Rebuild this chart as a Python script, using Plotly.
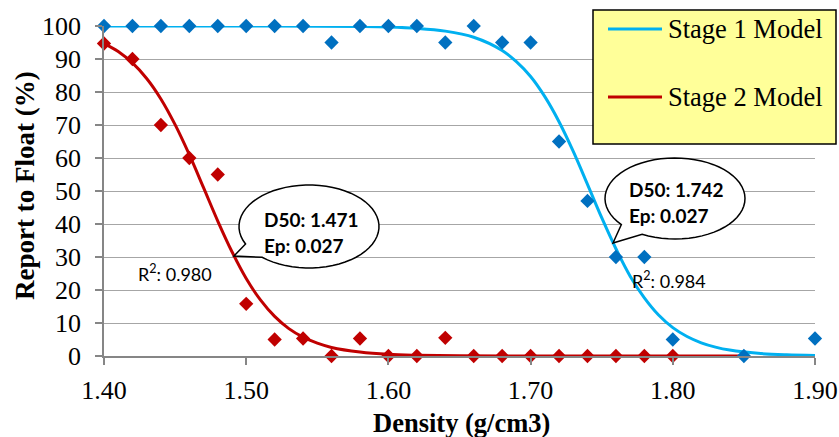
import math
import plotly.graph_objects as go

# ---- data ----
density_pts = [1.40, 1.42, 1.44, 1.46, 1.48, 1.50, 1.52, 1.54, 1.56, 1.58, 1.60, 1.62,
               1.64, 1.66, 1.68, 1.70, 1.72, 1.74, 1.76, 1.78, 1.80]
stage1_density = density_pts + [1.85, 1.90]
stage1_float = [100, 100, 100, 100, 100, 100, 100, 100, 95, 100, 100, 100,
                95, 100, 95, 95, 65, 47, 30, 30, 5, 0, 5.3]
stage2_density = density_pts
stage2_float = [94.7, 90, 70, 60, 55, 15.8, 5, 5.3, 0, 5.3, 0, 0,
                5.5, 0, 0, 0, 0, 0, 0, 0, 0]

model1_x = [1.40, 1.45, 1.50, 1.55, 1.58, 1.60, 1.62, 1.64, 1.66, 1.68, 1.69, 1.70, 1.71,
            1.72, 1.73, 1.74, 1.75, 1.76, 1.77, 1.78, 1.79, 1.80, 1.81, 1.82, 1.83, 1.84,
            1.86, 1.88, 1.90]
model1_y = [100, 100, 99.99, 99.96, 99.86, 99.7, 99.3, 98.45, 96.6, 92.6, 89.2, 84.7, 78.6,
            71.0, 62.0, 52.0, 41.9, 32.5, 24.2, 17.6, 12.4, 8.6, 5.9, 4.0, 2.7, 1.8,
            0.8, 0.36, 0.16]
model2_x = [1.40, 1.41, 1.42, 1.43, 1.44, 1.45, 1.46, 1.47, 1.48, 1.49, 1.50, 1.51, 1.52,
            1.53, 1.54, 1.55, 1.56, 1.58, 1.60, 1.62, 1.65, 1.70, 1.75, 1.80, 1.85]
model2_y = [94.7, 92.3, 88.8, 84.1, 77.9, 70.1, 61.0, 51.0, 40.9, 31.6, 23.5, 17.0, 12.0,
            8.3, 5.7, 3.9, 2.6, 1.2, 0.5, 0.23, 0.07, 0.01, 0, 0, 0]

legend_names = ["Stage 1 Model", "Stage 2 Model"]
callout_lines = [["D50: 1.471", "Ep: 0.027"], ["D50: 1.742", "Ep: 0.027"]]
r2_labels = ["R<sup>2</sup>: 0.980", "R<sup>2</sup>: 0.984"]
x_ticks = [1.40, 1.50, 1.60, 1.70, 1.80, 1.90]
x_tick_text = ["1.40", "1.50", "1.60", "1.70", "1.80", "1.90"]
x_title = "Density (g/cm3)"
y_title = "Report to Float (%)"

# ---- layout geometry (pixels) ----
W, H = 839, 437
ML, MR, MT, MB = 104, 24, 26, 81
X_RANGE = [1.40, 1.90]
Y_RANGE = [0, 100]
PW = W - ML - MR
PH = H - MT - MB


def dx(px):
    return X_RANGE[0] + (px - ML) / PW * (X_RANGE[1] - X_RANGE[0])


def dy(py):
    return Y_RANGE[0] + (MT + PH - py) / PH * (Y_RANGE[1] - Y_RANGE[0])


def qx(px):
    return (px - ML) / PW


def qy(py):
    return (MT + PH - py) / PH


def callout_path(cx, cy, rx, ry, a_start, a_end, tip):
    pts = []
    n = 60
    for i in range(n + 1):
        a = math.radians(a_start + (a_end - a_start) * i / n)
        pts.append((cx + rx * math.cos(a), cy + ry * math.sin(a)))
    pts.append(tip)
    return "M " + " L ".join(f"{dx(px):.5f},{dy(py):.4f}" for px, py in pts) + " Z"


BLUE_M = "#0070C0"
BLUE_L = "#00B0F0"
RED = "#C00000"
SERIF = "Liberation Serif, Times New Roman, serif"
SANS = "Lato, Carlito, Calibri, sans-serif"

fig = go.Figure()

fig.add_trace(go.Scatter(x=model1_x, y=model1_y, mode="lines", name=legend_names[0],
                         line=dict(color=BLUE_L, width=3, shape="spline"),
                         showlegend=False, cliponaxis=False))
fig.add_trace(go.Scatter(x=model2_x, y=model2_y, mode="lines", name=legend_names[1],
                         line=dict(color=RED, width=3, shape="spline"),
                         showlegend=False, cliponaxis=False))
fig.add_trace(go.Scatter(x=stage1_density, y=stage1_float, mode="markers", showlegend=False,
                         name="Stage 1", marker=dict(symbol="diamond", size=11, color=BLUE_M),
                         cliponaxis=False))
fig.add_trace(go.Scatter(x=stage2_density, y=stage2_float, mode="markers", showlegend=False,
                         name="Stage 2", marker=dict(symbol="diamond", size=11, color=RED),
                         cliponaxis=False))

shapes = [
    dict(type="path", xref="x", yref="y",
         path=callout_path(309, 226.5, 70, 41.5, 155, 492, (234, 256)),
         line=dict(color="black", width=1.5), fillcolor="white", layer="above"),
    dict(type="path", xref="x", yref="y",
         path=callout_path(675, 198.5, 70, 40.5, 140, 478, (613, 243)),
         line=dict(color="black", width=1.5), fillcolor="white", layer="above"),
    # legend box
    dict(type="rect", xref="paper", yref="paper", x0=qx(593), x1=qx(836), y0=qy(144), y1=qy(10),
         line=dict(color="black", width=1.5), fillcolor="#FFFF99", layer="above"),
]

annotations = []
for (ly, col), name in zip([(29, BLUE_L), (97, RED)], legend_names):
    shapes.append(dict(type="line", xref="paper", yref="paper", x0=qx(608), x1=qx(662),
                       y0=qy(ly), y1=qy(ly), line=dict(color=col, width=3), layer="above"))
    annotations.append(dict(x=qx(666), y=qy(ly), xref="paper", yref="paper", text=name,
                            showarrow=False, xanchor="left", yanchor="middle",
                            font=dict(family=SERIF, size=26.5, color="black")))

for (tx, ys), lines in zip([(262, (219, 245)), (627, (189, 215))], callout_lines):
    for yy, txt in zip(ys, lines):
        annotations.append(dict(x=dx(tx), y=dy(yy), xref="x", yref="y", text=f"<b>{txt}</b>",
                                showarrow=False, xanchor="left", yanchor="middle",
                                font=dict(family=SANS, size=19, color="black")))
for (tx, ty), txt in zip([(136, 273), (630, 280)], r2_labels):
    annotations.append(dict(x=dx(tx), y=dy(ty), xref="x", yref="y", text=txt,
                            showarrow=False, xanchor="left", yanchor="middle",
                            font=dict(family=SANS, size=18, color="black")))

# axis titles
annotations.append(dict(x=qx(461), y=qy(423), xref="paper", yref="paper",
                        text=f"<b>{x_title}</b>", showarrow=False,
                        xanchor="center", yanchor="middle",
                        font=dict(family=SERIF, size=26.5, color="black")))
annotations.append(dict(x=qx(25), y=qy(186), xref="paper", yref="paper",
                        text=f"<b>{y_title}</b>", showarrow=False, textangle=-90,
                        xanchor="center", yanchor="middle",
                        font=dict(family=SERIF, size=27, color="black")))

fig.update_layout(
    width=W, height=H,
    margin=dict(l=ML, r=MR, t=MT, b=MB, autoexpand=False),
    paper_bgcolor="white", plot_bgcolor="white",
    shapes=shapes, annotations=annotations,
    showlegend=False,
    xaxis=dict(range=X_RANGE, tickvals=x_ticks, ticktext=x_tick_text,
               showgrid=False, zeroline=False,
               showline=True, linecolor="#868686", linewidth=1.5,
               ticks="outside", ticklen=7, tickcolor="#868686", tickwidth=1.5,
               ticklabelstandoff=3,
               tickfont=dict(family=SERIF, size=26, color="black")),
    yaxis=dict(range=Y_RANGE, dtick=10, showgrid=True, gridcolor="#A6A6A6", gridwidth=1,
               zeroline=False,
               showline=True, linecolor="#868686", linewidth=1.5,
               ticks="outside", ticklen=7, tickcolor="#868686", tickwidth=1.5,
               ticklabelstandoff=9,
               tickfont=dict(family=SERIF, size=26, color="black")),
)

fig.write_html("out.html", config={"displayModeBar": False},
               post_script="document.body.style.margin='0';document.body.style.overflow='hidden';")
